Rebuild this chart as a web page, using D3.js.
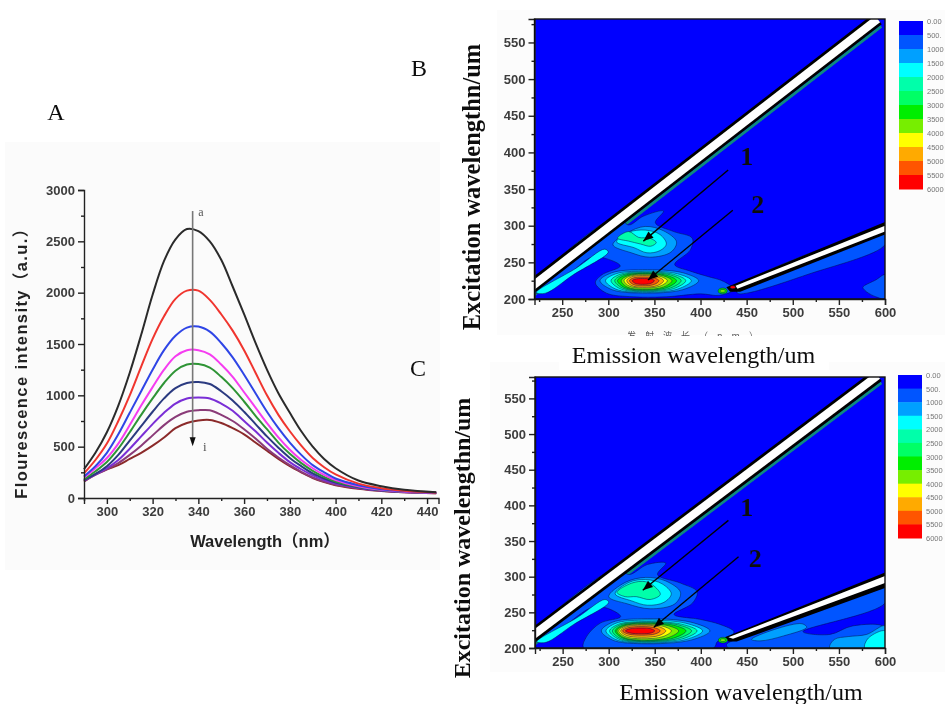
<!DOCTYPE html>
<html>
<head>
<meta charset="utf-8">
<script src="https://cdnjs.cloudflare.com/ajax/libs/d3/7.8.5/d3.min.js"></script>
<style>
  html, body { margin: 0; padding: 0; background: #fff; }
  svg { display: block; }
  .tick text { font-family: "Liberation Sans", sans-serif; font-weight: bold; fill: #3c3c3c; }
  .axis path, .axis line { stroke: #222; stroke-width: 1.4; }
  .serif { font-family: "Liberation Serif", serif; fill: #111; }
</style>
</head>
<body>
<script>
// panel A: spectra
var wavelengths = [290,295,300,305,310,315,320,325,330,335,340,345,350,355,360,365,370,375,380,385,390,395,400,410,420,430,444];
var curveA = [280,440,640,900,1220,1590,1980,2310,2520,2620,2600,2500,2320,2060,1790,1510,1250,1020,830,650,500,380,290,170,115,80,55];
var curveB = [240,370,530,750,1000,1280,1550,1770,1940,2020,2020,1930,1790,1630,1440,1220,1000,810,650,510,390,300,230,140,95,70,52];
var curveC = [210,310,440,620,830,1040,1250,1440,1580,1660,1670,1620,1510,1370,1200,1020,840,680,540,420,320,250,190,125,85,65,50];
var curveD = [200,290,390,530,710,900,1080,1250,1380,1440,1440,1400,1300,1180,1030,880,730,590,470,370,290,225,175,115,80,62,50];
var curveE = [180,260,350,480,640,810,970,1120,1240,1300,1305,1270,1180,1070,940,800,670,540,430,340,265,205,160,110,78,60,50];
var curveF = [175,235,310,420,560,700,840,970,1070,1120,1130,1110,1040,950,840,720,600,490,390,310,240,190,150,105,75,60,48];
var curveG = [170,230,290,370,480,600,720,830,920,970,980,970,920,850,750,650,540,440,350,280,220,175,140,100,72,58,48];
var curveH = [165,225,280,340,420,510,610,710,790,840,855,855,810,750,670,580,480,395,320,255,200,160,130,95,70,55,47];
var curveI = [160,230,280,320,380,440,510,590,680,730,755,760,730,680,620,540,460,380,310,250,195,155,125,90,68,55,46];
var curves = [curveA,curveB,curveC,curveD,curveE,curveF,curveG,curveH,curveI];
var curveColors = ["#2b2b2b","#f0352f","#2f45e6","#f53cf0","#2f9436","#2c3a80","#7a2fd6","#8a3a78","#8b2a2a"];
var spectraYTicks = [0,500,1000,1500,2000,2500,3000];
var spectraYMinor = [250,750,1250,1750,2250,2750];
var spectraXTicks = [300,320,340,360,380,400,420,440];
var spectraXMinor = [290,310,330,350,370,390,410,430];

// contour map axes and legend
var emTicks = [250,300,350,400,450,500,550,600];
var emMinor = [225,275,325,375,425,475,525,575];
var exTicks = [200,250,300,350,400,450,500,550];
var exMinor = [225,275,325,375,425,475,525,575];
var levelColors = ["#0000ff","#0055ff","#00a0ff","#00ffff","#00ffaa","#00ff66","#00ee00","#77ee00","#ffff00","#ffaa00","#ff5500","#ff0000"];
var legendLabels = ["0.00","500.","1000","1500","2000","2500","3000","3500","4000","4500","5000","5500","6000"];

// scatter ridges [em, ex]
var firstOrder = [[215,215],[592,582]];
var fringe = [[219,205],[596,572]];
var secondBlackB = [[428,216],[600,305],[600,288],[443,210],[432,210]];
var secondWhiteB = [[438,218],[600,300],[600,292],[440,214]];
var secondBlackC = [[426,215],[600,306],[600,284],[439,209],[430,209]];
var secondWhiteC = [[430,215],[600,301],[600,291],[435,213]];

// contours of map B, [em, ex]
var outerB = [[220,220],[310,312],[322,301],[338,313],[360,320],[351,304],[371,292],[391,283],[389,267],[372,247],[389,238],[407,231],[425,224],[436,213],[421,205],[400,207],[363,203],[327,203],[298,208],[286,222],[293,233],[313,245],[298,255],[282,257],[255,231],[229,209],[220,209]];
var fringeB = [[222,209],[265,242],[296,268],[300,264],[262,233],[232,208]];
var upperB2 = [[305,274],[320,290],[340,299],[360,293],[374,278],[368,264],[345,257],[325,263]];
var upperB3 = [[309,278],[322,291],[340,294],[356,288],[363,275],[356,266],[342,263],[328,270]];
var upperB4 = [[310,283],[322,292],[333,284],[345,283],[352,277],[346,272],[335,275],[322,279]];
var stripB = [[440,208],[450,208],[515,233],[600,274],[600,290],[440,216]];
var cornerB = [[576,216],[590,226],[600,233],[600,201],[590,203],[582,208],[578,212]];
var lowerLeftB = [291,297,303,307,310,314,317,320,323,326];
var lowerRightB = [398,390,384,379,374,369,364,360,355,350];
var lowerBottomB = [208,209,210,211,212,213,215,216,218,220];
var lowerTopB = [240,238,237,236,235,234,233,232,230,228];
var spotB = [[[424,211],5,4,6],[[424,211],3,2,7],[[435,216],3,2,11]];

// contours of map C
var outerC = [[220,220],[310,312],[322,303],[342,317],[362,319],[353,303],[378,291],[396,279],[391,263],[371,247],[400,240],[421,233],[436,223],[432,216],[418,209],[414,200],[273,200],[276,216],[291,235],[313,244],[298,256],[282,257],[229,209],[220,209],[220,200]];
var fringeC = [[222,209],[265,242],[296,268],[300,264],[262,233],[232,208]];
var upperC2 = [[300,272],[318,292],[340,299],[362,294],[378,278],[372,262],[345,255],[320,262]];
var upperC3 = [[307,276],[322,292],[340,296],[358,290],[368,276],[360,264],[342,260],[325,266]];
var upperC4 = [[309,278],[325,291],[340,293],[350,286],[356,275],[345,268],[330,272],[318,272]];
var sideC = [[436,211],[600,285],[600,263],[511,223],[540,219],[565,231],[600,229],[600,200],[430,200],[428,205]];
var bandC = [[455,212],[480,226],[510,234],[515,229],[490,217],[465,210]];
var patchC = [[540,200],[545,212],[560,216],[580,219],[600,231],[600,200]];
var patchC3 = [[578,200],[582,214],[600,224],[600,200]];
var lowerLeftC = [292,297,301,304,307,309,311,313,315,318];
var lowerRightC = [410,402,396,390,384,376,368,362,356,350];
var lowerBottomC = [206,207,208,209,210,211,213,215,218,220];
var lowerTopC = [241,239,237,236,235,234,233,232,230,228];
var spotC = [[[424,211],5,4,6],[[424,211],3,2,7]];

var width = 945, height = 704;
var svg = d3.select("body").append("svg").attr("width", width).attr("height", height);

// source is a soft scan, so everything gets a slight blur
var defs = svg.append("defs");
defs.append("filter").attr("id", "soft").attr("x", "-5%").attr("y", "-5%").attr("width", "110%").attr("height", "110%")
  .append("feGaussianBlur").attr("stdDeviation", 0.55);

svg.append("rect").attr("width", width).attr("height", height).attr("fill", "#ffffff");
svg.append("rect").attr("x", 5).attr("y", 142).attr("width", 435).attr("height", 428).attr("fill", "#fbfbfb");
svg.append("rect").attr("x", 497).attr("y", 10).attr("width", 448).attr("height", 325).attr("fill", "#fcfcfc");
svg.append("rect").attr("x", 490).attr("y", 362).attr("width", 455).attr("height", 310).attr("fill", "#fcfcfc");

var page = svg.append("g").attr("filter", "url(#soft)");

// ---------- panel A ----------
var xA = d3.scaleLinear().domain([290, 445]).range([84, 438.5]);
var yA = d3.scaleLinear().domain([0, 3000]).range([498, 190]);

var lineA = d3.line()
  .x(function(d, i) { return xA(wavelengths[i]); })
  .y(function(d) { return yA(d); })
  .curve(d3.curveCatmullRom.alpha(0.5));

var a = page.append("g");
a.selectAll(".spectrum").data(curves.slice().reverse()).enter().append("path")
  .attr("class", "spectrum")
  .attr("d", lineA)
  .attr("fill", "none")
  .attr("stroke", function(d, i) { return curveColors[curves.length - 1 - i]; })
  .attr("stroke-width", 2);

function addAxes(g, x, y, xTicks, xMinor, yTicks, yMinor, major, minor, fontSize, pad) {
  var bottom = y.range()[0], left = x.range()[0];
  var ax = g.append("g").attr("class", "axis").attr("transform", "translate(0," + bottom + ")")
    .call(d3.axisBottom(x).tickValues(xTicks).tickSize(major).tickPadding(pad).tickFormat(d3.format("d")));
  ax.selectAll("text").style("font-size", fontSize + "px");
  g.append("g").attr("class", "axis").attr("transform", "translate(0," + bottom + ")")
    .call(d3.axisBottom(x).tickValues(xMinor).tickSize(minor).tickFormat("")).select(".domain").remove();
  var ay = g.append("g").attr("class", "axis").attr("transform", "translate(" + left + ",0)")
    .call(d3.axisLeft(y).tickValues(yTicks).tickSize(major).tickPadding(pad).tickFormat(d3.format("d")));
  ay.selectAll("text").style("font-size", fontSize + "px");
  g.append("g").attr("class", "axis").attr("transform", "translate(" + left + ",0)")
    .call(d3.axisLeft(y).tickValues(yMinor).tickSize(minor).tickFormat("")).select(".domain").remove();
}
addAxes(a, xA, yA, spectraXTicks, spectraXMinor, spectraYTicks, spectraYMinor, 6, 3, 13, 3);

// a -> i arrow
a.append("line").attr("x1", xA(337.5)).attr("x2", xA(337.5)).attr("y1", yA(2795)).attr("y2", yA(540))
  .attr("stroke", "#777").attr("stroke-width", 1.6);
var tipX = xA(337.5), tipY = yA(505);
a.append("path").attr("d", "M" + (tipX - 3) + "," + (tipY - 9) + "L" + (tipX + 3) + "," + (tipY - 9) + "L" + tipX + "," + tipY + "Z").attr("fill", "#111");
a.append("text").attr("class", "serif").attr("x", xA(340)).attr("y", yA(2745)).attr("font-size", 12).style("fill", "#555").text("a");
a.append("text").attr("class", "serif").attr("x", xA(342)).attr("y", yA(455)).attr("font-size", 13).style("fill", "#555").text("i");

a.append("text").attr("transform", "translate(27,359) rotate(-90)").attr("text-anchor", "middle")
  .attr("font-family", "'Liberation Sans','Noto Sans CJK SC',sans-serif").attr("font-weight", "bold").attr("font-size", 16.5).attr("letter-spacing", 1.4).attr("fill", "#222")
  .text("Flourescence intensity（a.u.）");
a.append("text").attr("x", 265).attr("y", 547).attr("text-anchor", "middle")
  .attr("font-family", "'Liberation Sans','Noto Sans CJK SC',sans-serif").attr("font-weight", "bold").attr("font-size", 16.5).attr("fill", "#222")
  .text("Wavelength（nm）");

// ---------- contour maps ----------
function ringPoints(cx, cy, l, r, b, t) {
  var k = 0.72;
  return [[cx - l, cy], [cx - k * l, cy + k * t], [cx, cy + t], [cx + k * r, cy + k * t],
          [cx + r, cy], [cx + k * r, cy - k * b], [cx, cy - b], [cx - k * l, cy - k * b]];
}

function drawMap(id, x, y, c) {
  var g = page.append("g");
  defs.append("clipPath").attr("id", id).append("rect")
    .attr("x", x.range()[0]).attr("y", y.range()[1])
    .attr("width", x.range()[1] - x.range()[0]).attr("height", y.range()[0] - y.range()[1]);
  var inner = g.append("g").attr("clip-path", "url(#" + id + ")");
  inner.append("rect").attr("x", x.range()[0]).attr("y", y.range()[1])
    .attr("width", x.range()[1] - x.range()[0]).attr("height", y.range()[0] - y.range()[1])
    .attr("fill", levelColors[0]);

  var smooth = d3.line().x(function(d) { return x(d[0]); }).y(function(d) { return y(d[1]); })
    .curve(d3.curveCatmullRomClosed.alpha(0.5));
  var straight = d3.line().x(function(d) { return x(d[0]); }).y(function(d) { return y(d[1]); });

  function shape(points, level) {
    inner.append("path").attr("d", smooth(points)).attr("fill", levelColors[level])
      .attr("stroke", "#02124a").attr("stroke-width", 0.5);
  }

  // fringe under the first order ridge
  inner.append("path").attr("d", straight(fringe))
    .attr("fill", "none").attr("stroke", "#0a8a80").attr("stroke-width", 3);

  shape(c.outer, 1);
  c.extra.forEach(function(p) { shape(p[0], p[1]); });
  shape(c.fringe, 3);
  c.upper.forEach(function(p, i) { shape(p, i + 2); });
  c.left.forEach(function(l, i) {
    shape(ringPoints(c.cx, c.cy, c.cx - l, c.right[i] - c.cx, c.cy - c.bottom[i], c.top[i] - c.cy), i + 2);
  });

  // scatter ridges
  inner.append("path").attr("d", straight(firstOrder)).attr("fill", "none").attr("stroke", "#000").attr("stroke-width", 13.5);
  inner.append("path").attr("d", straight(firstOrder)).attr("fill", "none").attr("stroke", "#fff").attr("stroke-width", 8);
  inner.append("path").attr("d", straight(c.secondBlack) + "Z").attr("fill", "#000");
  inner.append("path").attr("d", straight(c.secondWhite) + "Z").attr("fill", "#fff");

  c.spots.forEach(function(s) {
    shape(ringPoints(s[0][0], s[0][1], s[1], s[1], s[2], s[2]), s[3]);
  });

  // frame and axes
  addAxes(g, x, y, emTicks, emMinor, exTicks, exMinor, 6, 3, 13, 3);
  g.append("rect").attr("x", x.range()[0]).attr("y", y.range()[1])
    .attr("width", x.range()[1] - x.range()[0]).attr("height", y.range()[0] - y.range()[1])
    .attr("fill", "none").attr("stroke", "#111").attr("stroke-width", 1.4);

  // peak arrows and numbers
  c.arrows.forEach(function(ar) {
    var x1 = x(ar[0]), y1 = y(ar[1]), x2 = x(ar[2]), y2 = y(ar[3]);
    var ang = Math.atan2(y2 - y1, x2 - x1);
    g.append("line").attr("x1", x1).attr("y1", y1).attr("x2", x2).attr("y2", y2).attr("stroke", "#050505").attr("stroke-width", 1.4);
    var hl = 10, hw = 4;
    var bx = x2 - hl * Math.cos(ang), by = y2 - hl * Math.sin(ang);
    g.append("path").attr("d", "M" + x2 + "," + y2 +
      "L" + (bx - hw * Math.sin(ang)) + "," + (by + hw * Math.cos(ang)) +
      "L" + (bx + hw * Math.sin(ang)) + "," + (by - hw * Math.cos(ang)) + "Z").attr("fill", "#050505");
    g.append("text").attr("class", "serif").attr("x", x(ar[4])).attr("y", y(ar[5]))
      .attr("font-size", 26).attr("font-weight", "bold").attr("text-anchor", "middle").text(ar[6]);
  });
  return g;
}

var xB = d3.scaleLinear().domain([220, 600]).range([534.5, 885]);
var yB = d3.scaleLinear().domain([200, 582]).range([299, 19]);
var xC = d3.scaleLinear().domain([220, 600]).range([535, 885]);
var yC = d3.scaleLinear().domain([200, 580]).range([648, 377]);

drawMap("clipB", xB, yB, {
  outer: outerB, fringe: fringeB, extra: [[stripB, 1], [cornerB, 1]], upper: [upperB2, upperB3, upperB4],
  cx: 337, cy: 225, left: lowerLeftB, right: lowerRightB, bottom: lowerBottomB, top: lowerTopB, spots: spotB,
  secondBlack: secondBlackB, secondWhite: secondWhiteB,
  arrows: [[430,376,338,279,450,383,"1"],[435,321,343,226,462,317,"2"]]
});
drawMap("clipC", xC, yC, {
  outer: outerC, fringe: fringeC, extra: [[sideC, 1], [bandC, 2], [patchC, 2], [patchC3, 3]], upper: [upperC2, upperC3, upperC4],
  cx: 336, cy: 224, left: lowerLeftC, right: lowerRightC, bottom: lowerBottomC, top: lowerTopC, spots: spotC,
  secondBlack: secondBlackC, secondWhite: secondWhiteC,
  arrows: [[430,379,337,281,450,385,"1"],[441,328,349,229,459,313,"2"]]
});

// legends
function drawLegend(x0, w, y0, y1, labels) {
  var yL = d3.scaleLinear().domain([0, levelColors.length]).range([y0, y1]);
  page.selectAll(null).data(levelColors).enter().append("rect")
    .attr("x", x0).attr("width", w)
    .attr("y", function(d, i) { return yL(i); })
    .attr("height", yL(1) - yL(0) + 0.5)
    .attr("fill", function(d) { return d; });
  page.selectAll(null).data(labels).enter().append("text")
    .attr("x", x0 + w + 4).attr("y", function(d, i) { return yL(i) + 3; })
    .attr("font-family", "'Liberation Sans',sans-serif").attr("font-size", 7.5).attr("fill", "#777")
    .text(function(d) { return d; });
}
drawLegend(899, 24, 21, 189, legendLabels);
drawLegend(898, 24, 375, 538, legendLabels);

// leftover of the original axis title, mostly pasted over
svg.append("text").attr("x", 697).attr("y", 339).attr("text-anchor", "middle")
  .attr("font-family", "'Noto Sans CJK SC',sans-serif").attr("font-size", 9).attr("letter-spacing", 9).attr("fill", "#555")
  .attr("filter", "url(#soft)").text("发射波长（nm）");

// pasted labels on white boxes
svg.append("rect").attr("x", 559).attr("y", 336).attr("width", 270).attr("height", 34).attr("fill", "#fff");
svg.append("rect").attr("x", 607).attr("y", 676).attr("width", 268).attr("height", 28).attr("fill", "#fff");

var labels = svg.append("g").attr("filter", "url(#soft)");
function serifLabel(text, x, y, size, rotate, weight) {
  labels.append("text").attr("class", "serif")
    .attr("transform", "translate(" + x + "," + y + ")" + (rotate ? " rotate(-90)" : ""))
    .attr("text-anchor", "middle").attr("font-size", size).attr("font-weight", weight || "normal").text(text);
}
serifLabel("A", 56, 120, 24);
serifLabel("B", 419, 76, 24);
serifLabel("C", 418, 376, 24);
serifLabel("Emission wavelength/um", 693.5, 363, 24);
serifLabel("Emission wavelength/um", 741, 700, 24);
serifLabel("Excitation wavelengthn/um", 480, 187, 24.5, true, "bold");
serifLabel("Excitation wavelengthn/um", 470, 538, 24, true, "bold");
</script>
</body>
</html>
